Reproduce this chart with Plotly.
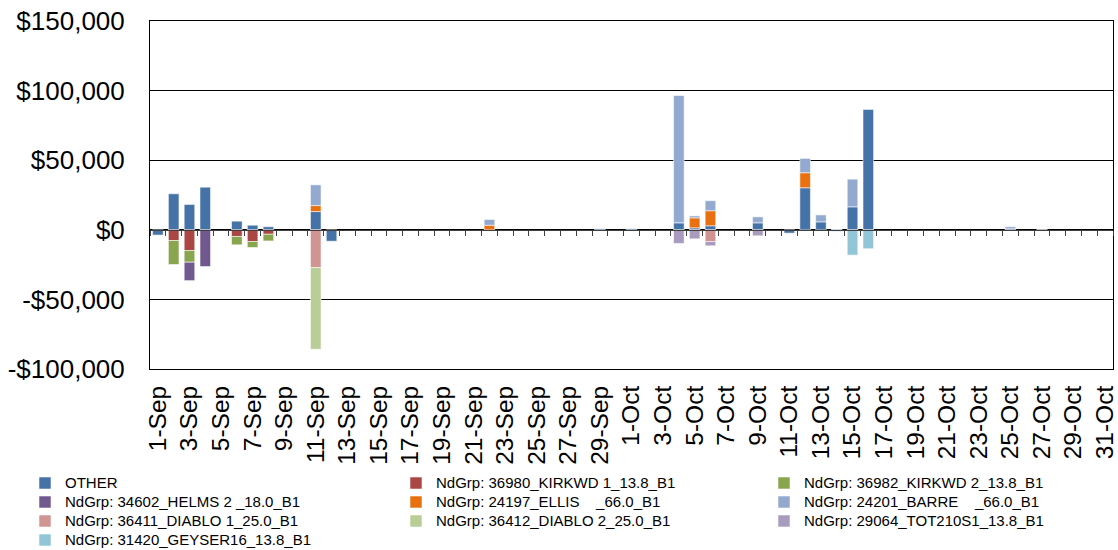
import plotly.graph_objects as go

# categories: 1-Sep .. 31-Oct
days = [f"{d}-Sep" for d in range(1, 31)] + [f"{d}-Oct" for d in range(1, 32)]
tick_labels = days[::2]

series_names = [
    "OTHER",
    "NdGrp: 36980_KIRKWD 1_13.8_B1",
    "NdGrp: 36982_KIRKWD 2_13.8_B1",
    "NdGrp: 34602_HELMS 2 _18.0_B1",
    "NdGrp: 24197_ELLIS    _66.0_B1",
    "NdGrp: 24201_BARRE    _66.0_B1",
    "NdGrp: 36411_DIABLO 1_25.0_B1",
    "NdGrp: 36412_DIABLO 2_25.0_B1",
    "NdGrp: 29064_TOT210S1_13.8_B1",
    "NdGrp: 31420_GEYSER16_13.8_B1",
]
series_colors = ["#4572A7", "#AA4643", "#89A54E", "#71588F", "#E8700F",
                 "#93A9CF", "#D09493", "#B9CD96", "#A99BBD", "#92C5D6"]
# legend column for each series (legend laid out in three columns, row-major)
series_legend = ["legend", "legend2", "legend3", "legend", "legend2",
                 "legend3", "legend", "legend2", "legend3", "legend"]

other = {"1-Sep": -3800, "2-Sep": 25900, "3-Sep": 18200, "4-Sep": 30600, "6-Sep": 6200,
         "7-Sep": 3300, "8-Sep": 2200, "11-Sep": 13100, "12-Sep": -8200, "22-Sep": -400,
         "29-Sep": 700, "1-Oct": 700, "4-Oct": 5000, "5-Oct": 1400, "6-Oct": 2900,
         "9-Oct": 5000, "11-Oct": -2400, "12-Oct": 30200, "13-Oct": 5700, "14-Oct": 500,
         "15-Oct": 16500, "16-Oct": 86500, "25-Oct": 700, "27-Oct": 300}
kirkwd1 = {"2-Sep": -7700, "3-Sep": -14900, "6-Sep": -4800, "7-Sep": -8400, "8-Sep": -3200}
kirkwd2 = {"2-Sep": -17200, "3-Sep": -8400, "6-Sep": -6000, "7-Sep": -4300, "8-Sep": -4800}
helms = {"3-Sep": -13200, "4-Sep": -26400}
ellis = {"11-Sep": 4300, "22-Sep": 3300, "5-Oct": 7200, "6-Oct": 10800, "12-Oct": 10800}
barre = {"11-Sep": 14900, "22-Sep": 4100, "4-Oct": 91500, "5-Oct": 1400, "6-Oct": 7200,
         "9-Oct": 4300, "12-Oct": 10300, "13-Oct": 5000, "15-Oct": 19900, "25-Oct": 1500}
diablo1 = {"11-Sep": -27100, "6-Oct": -8400}
diablo2 = {"11-Sep": -58700}
tot210 = {"4-Oct": -9800, "5-Oct": -6500, "6-Oct": -3100, "9-Oct": -4300}
geyser = {"14-Oct": -1200, "15-Oct": -18200, "16-Oct": -13600}

series_values = [other, kirkwd1, kirkwd2, helms, ellis, barre, diablo1, diablo2, tot210, geyser]

y_tickvals = [-100000, -50000, 0, 50000, 100000, 150000]
y_ticktext = ["-$100,000", "-$50,000", "$0", "$50,000", "$100,000", "$150,000"]

FONT = "Liberation Sans, Arial, sans-serif"
LEGEND_TEXT_PX = 15

fig = go.Figure()
for name, color, vals, leg in zip(series_names, series_colors, series_values, series_legend):
    fig.add_trace(go.Bar(
        x=days, y=[vals.get(d) for d in days],
        name=f'<span style="font-size:{LEGEND_TEXT_PX}px">{name}</span>',
        legend=leg, hovertemplate=f"{name}<br>%{{x}}: %{{y:$,.0f}}<extra></extra>",
        marker=dict(color=color, line=dict(color="rgba(255,255,255,0.55)", width=1)),
    ))

# helper trace so the zero-line tick axis is drawn
fig.add_trace(go.Scatter(x=days, y=[None] * len(days), xaxis="x2", showlegend=False,
                         hoverinfo="skip", mode="lines"))

legend_common = dict(
    orientation="v", xref="container", yref="container",
    y=1 - 468.5 / 550, xanchor="left", yanchor="top",
    font=dict(size=12, family=FONT), tracegroupgap=0,
    bgcolor="rgba(0,0,0,0)",
)

fig.update_layout(
    width=1118, height=550,
    margin=dict(l=150, r=5, t=21, b=181, autoexpand=False),
    plot_bgcolor="white", paper_bgcolor="white",
    barmode="relative", bargap=0.33,
    font=dict(family=FONT, color="black"),
    xaxis=dict(
        type="category", categoryorder="array", categoryarray=days,
        range=[-0.5, len(days) - 0.5],
        tickmode="array", tickvals=tick_labels, ticktext=tick_labels,
        tickangle=-90, tickfont=dict(size=24.5, family=FONT),
        showline=True, linecolor="black", linewidth=1, mirror=True,
        ticks="", showgrid=False, zeroline=False, automargin=False,
        ticklabelstandoff=6,
    ),
    xaxis2=dict(
        type="category", categoryorder="array", categoryarray=days,
        range=[-0.5, len(days) - 0.5],
        overlaying="x", anchor="free", position=0.4,
        showline=True, linecolor="#404040", linewidth=1,
        ticks="outside", ticklen=5, tickcolor="#404040", tickson="boundaries",
        showticklabels=False, showgrid=False, zeroline=False, automargin=False,
    ),
    yaxis=dict(
        range=[-100000, 150000], tickmode="array",
        tickvals=y_tickvals, ticktext=y_ticktext,
        tickfont=dict(size=26, family=FONT),
        showline=True, linecolor="black", linewidth=1, mirror=True,
        showgrid=True, gridcolor="black", gridwidth=1,
        zeroline=False, ticks="", ticklabelstandoff=19, automargin=False,
    ),
    legend=dict(legend_common, x=25 / 1118),
    legend2=dict(legend_common, x=396 / 1118),
    legend3=dict(legend_common, x=764 / 1118),
    showlegend=True,
)

fig.write_html(
    "out.html",
    config={"displayModeBar": False},
    post_script="document.body.style.margin='0';document.body.style.overflow='hidden';",
)
